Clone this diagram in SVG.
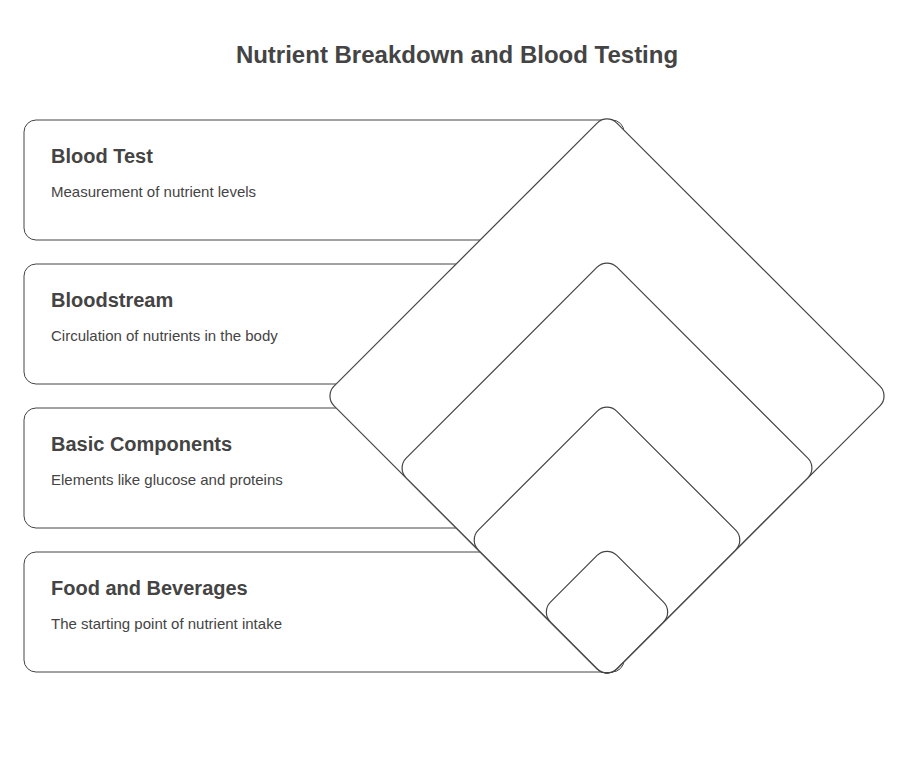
<svg xmlns="http://www.w3.org/2000/svg" width="915" height="781" viewBox="0 0 915 781">
<style>
.card{fill:#fff;stroke:#444;stroke-width:1}
.dia{fill:#fff;stroke:#444;stroke-width:1.2}
.t{font-family:"Liberation Sans",Arial,sans-serif;font-weight:bold;font-size:20px;fill:#444}
.d{font-family:"Liberation Sans",Arial,sans-serif;font-size:15px;fill:#444}
</style>
<rect width="915" height="781" fill="#fff"/>
<text x="457" y="63" text-anchor="middle" font-family="Liberation Sans,Arial,sans-serif" font-weight="bold" font-size="24" fill="#444">Nutrient Breakdown and Blood Testing</text>
<g id="card-blood-test"><rect class="card" x="24" y="120" width="600" height="120" rx="12"/><text class="t" x="51" y="163">Blood Test</text><text class="d" x="51" y="197">Measurement of nutrient levels</text></g>
<g id="card-bloodstream"><rect class="card" x="24" y="264" width="600" height="120" rx="12"/><text class="t" x="51" y="307">Bloodstream</text><text class="d" x="51" y="341">Circulation of nutrients in the body</text></g>
<g id="card-basic"><rect class="card" x="24" y="408" width="600" height="120" rx="12"/><text class="t" x="51" y="451">Basic Components</text><text class="d" x="51" y="485">Elements like glucose and proteins</text></g>
<g id="card-food"><rect class="card" x="24" y="552" width="600" height="120" rx="12"/><text class="t" x="51" y="595">Food and Beverages</text><text class="d" x="51" y="629">The starting point of nutrient intake</text></g>
<g id="diamond-1"><rect class="dia" x="-200" y="-200" width="400" height="400" rx="14" transform="translate(607,396) rotate(45)"/></g>
<g id="diamond-2"><rect class="dia" x="-149" y="-149" width="298" height="298" rx="14" transform="translate(607,468) rotate(45)"/></g>
<g id="diamond-3"><rect class="dia" x="-98" y="-98" width="196" height="196" rx="14" transform="translate(607,540) rotate(45)"/></g>
<g id="diamond-4"><rect class="dia" x="-47" y="-47" width="94" height="94" rx="14" transform="translate(607,612) rotate(45)"/></g>
<g id="connectors"/>
</svg>
